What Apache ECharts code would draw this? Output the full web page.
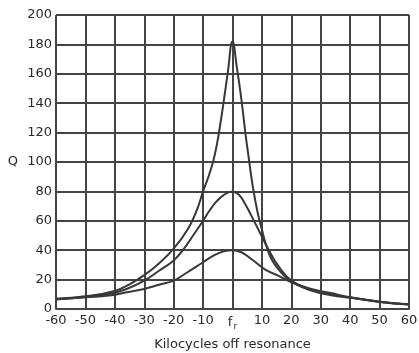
<!DOCTYPE html>
<html>
<head>
<meta charset="utf-8">
<script src="https://cdn.jsdelivr.net/npm/echarts@6/dist/echarts.min.js"></script>
<style>
  html, body { margin: 0; padding: 0; background: #fff; }
  #chart { width: 419px; height: 353px; }
</style>
</head>
<body>
<div id="chart"></div>
<script>
// kilocycles off resonance -> Q
var curveHigh = [
    [-60, 7], [-50, 8.6], [-40, 12.3], [-35, 16.8], [-30, 23], [-25, 31], [-20, 41],
    [-15, 55], [-12, 68], [-10, 80], [-8, 91], [-6.5, 101], [-5.3, 112], [-4.2, 125],
    [-3, 141], [-1.6, 161], [0, 182], [1.5, 164], [3, 143], [4.3, 121], [5.5, 103],
    [7, 82], [8.5, 66], [10, 54], [11.5, 43], [13.5, 33], [16.5, 25], [20, 18.6],
    [26.8, 12.5], [33.6, 9.4], [40, 7.6], [50, 5], [60, 3]
]
var curveMid = [
    [-60, 6.8], [-50, 8.2], [-42, 10.2], [-36, 13.6], [-30, 19.3], [-25, 26], [-20, 33],
    [-16.5, 41], [-13.4, 50], [-10, 60], [-7.8, 67], [-5.5, 73], [-3, 77.5], [0, 80],
    [2, 78], [4, 72.5], [6.4, 63.5], [9.8, 50], [12.1, 41], [15.5, 29.5], [20, 19.3],
    [26.8, 13], [33, 10.3], [40, 7.8], [50, 4.8], [60, 3]
]
var curveLow = [
    [-60, 6.5], [-50, 8], [-42, 9.1], [-36, 11.4], [-30, 13.6], [-25, 16.5], [-20, 19.3],
    [-15.7, 24.5], [-10, 31.8], [-6, 36.8], [-3, 39.2], [0, 40], [3, 38.6], [6.4, 34],
    [11, 27], [15.5, 22.7], [20, 18.2], [26.8, 13.6], [33, 11], [40, 8], [50, 5], [60, 3.2]
]
var xTickLabels = ['-60', '-50', '-40', '-30', '-20', '-10', 'f{sub|r}', '10', '20', '30', '40', '50', '60']
var yTickLabels = ['0', '20', '40', '60', '80', '100', '120', '140', '160', '180', '200']

var ink = '#444'
var labelFont = 'DejaVu Sans'

var chart = echarts.init(document.getElementById('chart'), null, { renderer: 'canvas' })

function lineSeries(data) {
    return {
        type: 'line',
        data: data,
        smooth: 0.45,
        showSymbol: false,
        silent: true,
        lineStyle: { color: '#383838', width: 2 }
    }
}

chart.setOption({
    animation: false,
    backgroundColor: '#fff',
    grid: { left: 56, right: 10, top: 15, bottom: 44, outerBoundsMode: 'none', containLabel: false },
    xAxis: {
        type: 'value',
        min: -60,
        max: 60,
        interval: 10,
        name: 'Kilocycles off resonance',
        nameLocation: 'middle',
        nameGap: 29,
        nameTextStyle: { fontFamily: labelFont, fontSize: 13, color: '#2a2a2a' },
        axisLine: { show: true, onZero: false, lineStyle: { color: ink, width: 2 } },
        axisTick: { show: false },
        axisLabel: {
            margin: 5,
            fontFamily: labelFont,
            fontSize: 13,
            color: '#2a2a2a',
            formatter: function(value) {
                return xTickLabels[Math.round((value + 60) / 10)]
            },
            rich: {
                sub: { fontFamily: labelFont, fontSize: 9, color: '#2a2a2a', verticalAlign: 'bottom', padding: [8, 0, 0, 1] }
            }
        },
        splitLine: { show: true, lineStyle: { color: ink, width: 2 } }
    },
    yAxis: {
        type: 'value',
        min: 0,
        max: 200,
        interval: 20,
        name: 'Q',
        nameLocation: 'middle',
        nameRotate: 0,
        nameGap: 38,
        nameTextStyle: { fontFamily: labelFont, fontSize: 13, color: '#2a2a2a' },
        axisLine: { show: true, lineStyle: { color: ink, width: 2 } },
        axisTick: { show: false },
        axisLabel: {
            margin: 4,
            fontFamily: labelFont,
            fontSize: 13,
            color: '#2a2a2a',
            formatter: function(value) {
                return yTickLabels[Math.round(value / 20)]
            }
        },
        splitLine: { show: true, lineStyle: { color: ink, width: 2 } }
    },
    series: [lineSeries(curveHigh), lineSeries(curveMid), lineSeries(curveLow)]
})
</script>
</body>
</html>
